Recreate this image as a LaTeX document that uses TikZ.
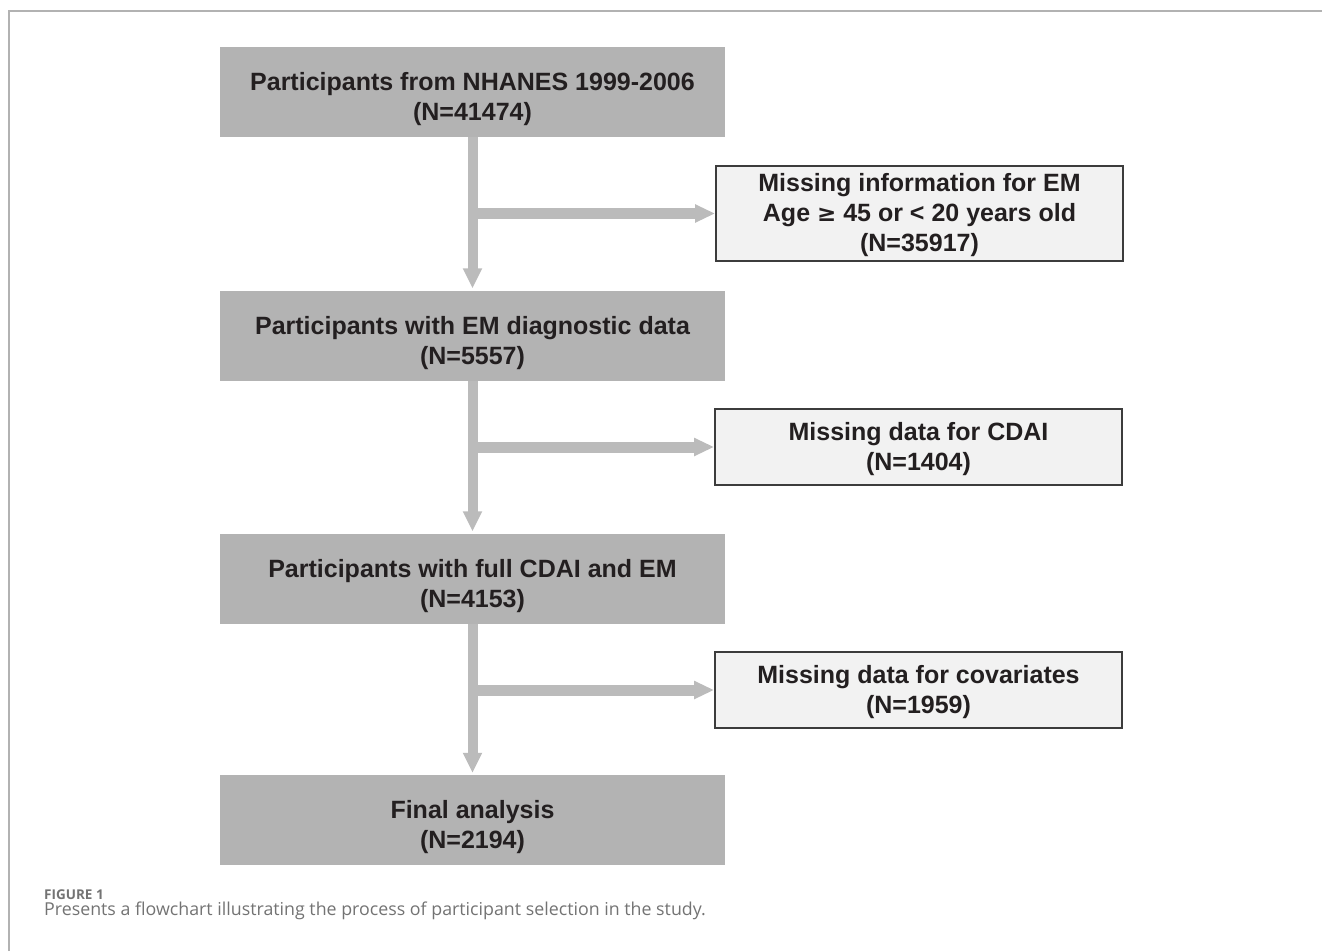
\documentclass[tikz,border=0pt]{standalone}
\usepackage{fontspec}
\setmainfont{Liberation Sans}
\newfontfamily\capfont{Open Sans}
\usetikzlibrary{arrows.meta}
\definecolor{boxgray}{RGB}{179,179,179}
\definecolor{arrgray}{RGB}{187,187,187}
\definecolor{sidefill}{RGB}{242,242,242}
\definecolor{sideline}{RGB}{60,60,60}
\definecolor{txt}{RGB}{35,31,32}
\definecolor{frame}{RGB}{178,178,178}
\definecolor{capgray}{RGB}{115,115,115}
\tikzset{
  boxtext/.style={align=center, text=txt, inner sep=0pt, font=\bfseries\fontsize{25}{30}\selectfont},
  mainbox/.style={fill=boxgray, draw=none, minimum width=505pt, minimum height=90pt, inner sep=0pt},
  sidebox/.style={fill=sidefill, draw=sideline, line width=1.8pt, minimum width=407pt, inner sep=0pt},
  mainlbl/.style={boxtext, yshift=-7.5pt},
  sidelbl/.style={boxtext, yshift=-2pt},
  flow/.style={draw=arrgray, line width=10pt,
    -{Triangle[width=18pt,length=20pt]}},
  branch/.style={draw=arrgray, line width=11pt,
    -{Triangle[width=17pt,length=20pt]}},
  capA/.style={anchor=base west, inner sep=0pt, text=capgray, font=\capfont\bfseries\fontsize{13.5}{16}\selectfont},
  capB/.style={anchor=base west, inner sep=0pt, text=capgray, font=\capfont\fontsize{17.8}{21}\selectfont}
}
\begin{document}
\begin{tikzpicture}[x=1pt,y=-1pt]
\useasboundingbox (0,0) rectangle (1322,951);
% frame
\draw[frame, line width=2pt] (9,951) -- (9,11) -- (1322,11);
% main boxes
\node[mainbox, label={[mainlbl]center:{Participants from NHANES 1999-2006\\(N=41474)}}] (b1) at (472.5,92) {};
\node[mainbox, label={[mainlbl]center:{Participants with EM diagnostic data\\(N=5557)}}] (b2) at (472.5,335.5) {};
\node[mainbox, label={[mainlbl]center:{Participants with full CDAI and EM\\(N=4153)}}] (b3) at (472.5,578.5) {};
\node[mainbox, label={[mainlbl]center:{Final analysis\\(N=2194)}}] (b4) at (472.5,820) {};
% side boxes
\node[sidebox, minimum height=95pt, label={[sidelbl]center:{Missing information for EM\\Age {\fontspec{DejaVu Sans}[Scale=0.92]\bfseries ≥} 45 or < 20 years old\\(N=35917)}}] (s1) at (919.5,213.5) {};
\node[sidebox, minimum height=76pt, label={[sidelbl]center:{Missing data for CDAI\\(N=1404)}}] (s2) at (918.5,447) {};
\node[sidebox, minimum height=76pt, label={[sidelbl]center:{Missing data for covariates\\(N=1959)}}] (s3) at (918.5,690) {};
% branch points on the vertical arrows
\coordinate (j1) at (468,213.5);
\coordinate (j2) at (468,447);
\coordinate (j3) at (468,690);
% connectors
\draw[flow, shorten >=2pt] (b1.south) -- (b2.north);
\draw[flow, shorten >=2pt] (b2.south) -- (b3.north);
\draw[flow, shorten >=2pt] (b3.south) -- (b4.north);
\draw[branch] (j1) -- (s1.west);
\draw[branch] (j2) -- (s2.west);
\draw[branch] (j3) -- (s3.west);
% caption
\node[capA] (cap1) at (44,899.3) {FIGURE 1};
\node[capB] (cap2) at (44,915.7) {Presents a flowchart illustrating the process of participant selection in the study.};
\end{tikzpicture}
\end{document}
